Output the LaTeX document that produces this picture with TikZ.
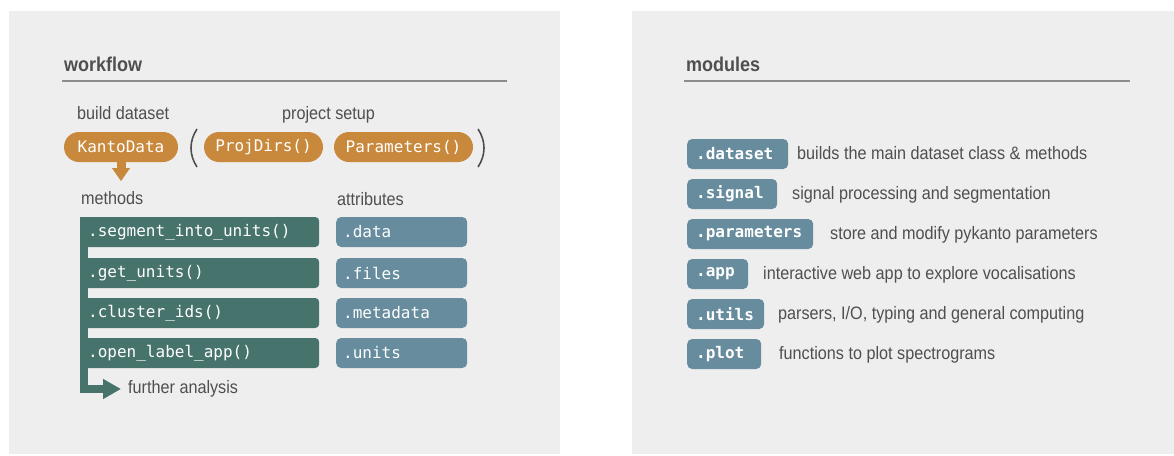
\documentclass[tikz,border=0pt]{standalone}
\usepackage{xcolor}
\usepackage{fontspec}
\setmainfont{Liberation Sans}[FakeStretch=0.9]
\setmonofont{DejaVu Sans Mono}
\usepackage{tikz}
\usetikzlibrary{arrows.meta}

\definecolor{panelgray}{HTML}{EEEEEE}
\definecolor{txtgray}{HTML}{4F4F4F}
\definecolor{rulegray}{HTML}{8C8C8C}
\definecolor{kantoorange}{HTML}{C8893D}
\definecolor{methgreen}{HTML}{47736D}
\definecolor{attrblue}{HTML}{668C9D}

\begin{document}
\begin{tikzpicture}[x=1pt,y=-1pt,
    lbl/.style={anchor=base west,inner sep=0pt,text=txtgray,font=\fontsize{18}{20}\selectfont},
    heading/.style={anchor=base west,inner sep=0pt,text=txtgray,font=\fontsize{20}{22}\selectfont\bfseries},
    pill/.style={fill=kantoorange,text=white,rounded corners=15pt,minimum height=30pt,inner sep=0pt,font=\fontsize{16}{18}\selectfont\ttfamily},
    methbox/.style={anchor=west,fill=methgreen,text=white,rounded corners=4pt,minimum height=30pt,text width=223pt,align=left,inner xsep=8pt,inner ysep=0pt,font=\fontsize{16}{18}\selectfont\ttfamily},
    attrbox/.style={anchor=west,fill=attrblue,text=white,rounded corners=5pt,minimum height=30pt,text width=117pt,align=left,inner xsep=7pt,inner ysep=0pt,font=\fontsize{16}{18}\selectfont\ttfamily},
    modbox/.style={anchor=west,fill=attrblue,text=white,rounded corners=5pt,minimum height=30pt,align=left,inner xsep=9pt,inner ysep=0pt,font=\fontsize{16}{18}\selectfont\ttfamily\bfseries},
    paren/.style={draw=txtgray,line width=1.6pt}]
\useasboundingbox (0,0) rectangle (1174,455);

% the two panels
\fill[panelgray] (9,11) rectangle (560,454);
\fill[panelgray] (632,11) rectangle (1174,454);

% ---- workflow panel ----
\node[heading] (wf) at (64,71) {workflow};
\draw[rulegray,line width=1.5pt] (62,81) -- (507,81);

\node[lbl] (build) at (77,119) {build dataset};
\node[lbl] (setup) at (282,119) {project setup};

\node[pill,minimum width=114pt] (kanto) at (121,147) {KantoData};
\node[pill,minimum width=119pt] (dirs) at (263.5,147) {ProjDirs()};
\node[pill,minimum width=139pt] (params) at (403.5,147) {Parameters()};

% brackets round the setup objects
\draw[paren] (197,129) .. controls (189,141) and (189,155) .. (197,167);
\draw[paren] (478,129) .. controls (486,141) and (486,155) .. (478,167);

% KantoData gives the methods
\draw[kantoorange,line width=9pt,-{Triangle[width=17pt,length=13pt]}] (kanto.south) -- ++(0,19);

\node[lbl] (meth) at (81,204) {methods};
\node[lbl] (attr) at (337,205) {attributes};

\coordinate (flowtop) at (84,217);
\node[lbl,anchor=west,inner xsep=7pt] (further) at (121,389) {further analysis};
\draw[methgreen,line width=8pt,-{Triangle[width=19pt,length=18pt]}] (flowtop) |- (further.west);

\node[methbox] (m1) at (80,232) {.segment\_into\_units()};
\node[methbox] (m2) at (80,273) {.get\_units()};
\node[methbox] (m3) at (80,313) {.cluster\_ids()};
\node[methbox] (m4) at (80,353) {.open\_label\_app()};
\fill[methgreen] (80,217) rectangle (88,370);

\node[attrbox] (a1) at (336,232) {.data};
\node[attrbox] (a2) at (336,273) {.files};
\node[attrbox] (a3) at (336,313) {.metadata};
\node[attrbox] (a4) at (336,353) {.units};

% ---- modules panel ----
\node[heading] (mod) at (686,71) {modules};
\draw[rulegray,line width=1.5pt] (684,81) -- (1130,81);

\node[modbox,text width=83pt] (ds) at (687,154) {.dataset};
\node[modbox,text width=72pt] (sig) at (687,194) {.signal};
\node[modbox,text width=108pt] (par) at (687,234) {.parameters};
\node[modbox,text width=43pt] (app) at (687,274) {.app};
\node[modbox,text width=59pt] (utl) at (687,314) {.utils};
\node[modbox,text width=56pt] (plt) at (687,354) {.plot};

\node[lbl] (dsd) at (797,159) {builds the main dataset class \& methods};
\node[lbl] (sigd) at (792,199) {signal processing and segmentation};
\node[lbl] (pard) at (830,239) {store and modify pykanto parameters};
\node[lbl] (appd) at (763,279) {interactive web app to explore vocalisations};
\node[lbl] (utld) at (778,319) {parsers, I/O, typing and general computing};
\node[lbl] (pltd) at (779,359) {functions to plot spectrograms};

\end{tikzpicture}
\end{document}
